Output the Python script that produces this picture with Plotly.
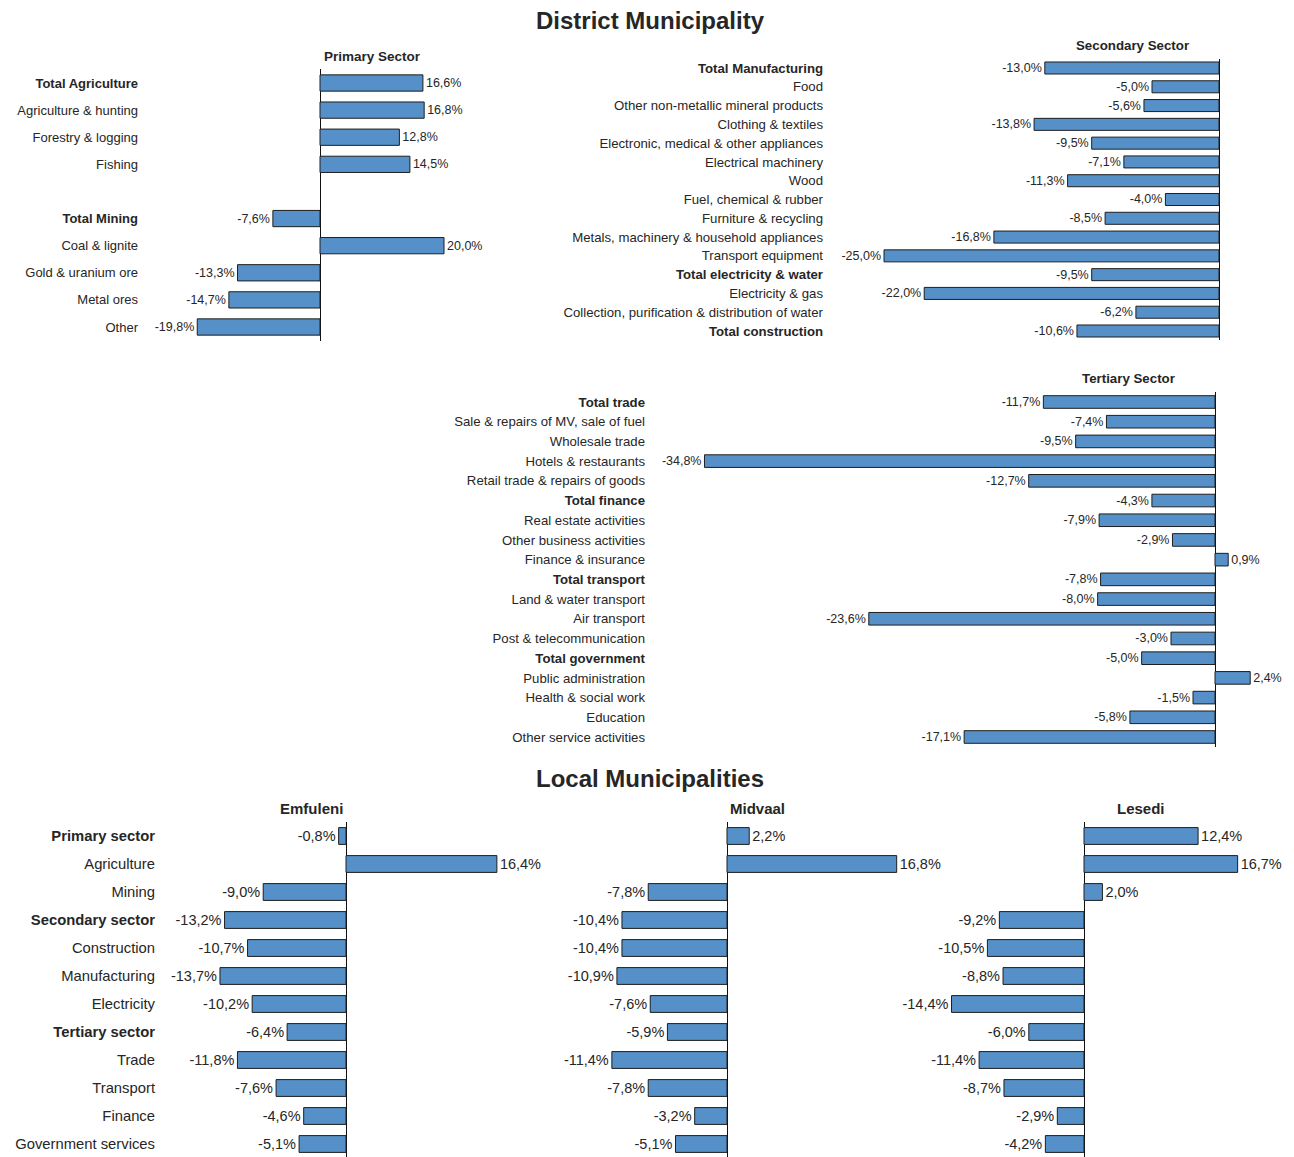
import plotly.graph_objects as go

OFF = 8                      # browser body margin
W, H = 1294 - 2 * OFF, 1157 - OFF

# ---------------- data ----------------
primary_labels = ["Total Agriculture", "Agriculture & hunting", "Forestry & logging", "Fishing", None,
                  "Total Mining", "Coal & lignite", "Gold & uranium ore", "Metal ores", "Other"]
primary_bold = ["Total Agriculture", "Total Mining"]
primary_values = [16.6, 16.8, 12.8, 14.5, None, -7.6, 20.0, -13.3, -14.7, -19.8]

secondary_labels = ["Total Manufacturing", "Food", "Other non-metallic mineral products", "Clothing & textiles",
                    "Electronic, medical & other appliances", "Electrical machinery", "Wood",
                    "Fuel, chemical & rubber", "Furniture & recycling", "Metals, machinery & household appliances",
                    "Transport equipment", "Total electricity & water", "Electricity & gas",
                    "Collection, purification & distribution of water", "Total construction"]
secondary_bold = ["Total Manufacturing", "Total electricity & water", "Total construction"]
secondary_values = [-13.0, -5.0, -5.6, -13.8, -9.5, -7.1, -11.3, -4.0, -8.5, -16.8, -25.0, -9.5, -22.0, -6.2, -10.6]

tertiary_labels = ["Total trade", "Sale & repairs of MV, sale of fuel", "Wholesale trade", "Hotels & restaurants",
                   "Retail trade & repairs of goods", "Total finance", "Real estate activities",
                   "Other business activities", "Finance & insurance", "Total transport",
                   "Land & water transport", "Air transport", "Post & telecommunication", "Total government",
                   "Public administration", "Health & social work", "Education", "Other service activities"]
tertiary_bold = ["Total trade", "Total finance", "Total transport", "Total government"]
tertiary_values = [-11.7, -7.4, -9.5, -34.8, -12.7, -4.3, -7.9, -2.9, 0.9, -7.8, -8.0, -23.6, -3.0, -5.0,
                   2.4, -1.5, -5.8, -17.1]

local_labels = ["Primary sector", "Agriculture", "Mining", "Secondary sector", "Construction", "Manufacturing",
                "Electricity", "Tertiary sector", "Trade", "Transport", "Finance", "Government services"]
local_bold = ["Primary sector", "Secondary sector", "Tertiary sector"]
emfuleni_values = [-0.8, 16.4, -9.0, -13.2, -10.7, -13.7, -10.2, -6.4, -11.8, -7.6, -4.6, -5.1]
midvaal_values = [2.2, 16.8, -7.8, -10.4, -10.4, -10.9, -7.6, -5.9, -11.4, -7.8, -3.2, -5.1]
lesedi_values = [12.4, 16.7, 2.0, -9.2, -10.5, -8.8, -14.4, -6.0, -11.4, -8.7, -2.9, -4.2]

# ---------------- styling / geometry (reference-page pixels) ----------------
BAR = "#5690c8"
EDGE = "#1e1e1e"
TXT = "#262626"
FONT = "Liberation Sans, Arial, sans-serif"

panels = [
    dict(title="Primary Sector", labels=primary_labels, bold=primary_bold, values=primary_values,
         left=142, zero=320, scale=6.2, right=500, y0=83, y1=327, lf=13, tf=12.5, bw=0.6, tx=372, ty=57, tfs=13.5, show=True),
    dict(title="Secondary Sector", labels=secondary_labels, bold=secondary_bold, values=secondary_values,
         left=827, zero=1219, scale=13.4, right=1290, y0=68, y1=331, lf=13.2, tf=12.5, bw=0.64, tx=1132, ty=45, tfs=13.3, show=True),
    dict(title="Tertiary Sector", labels=tertiary_labels, bold=tertiary_bold, values=tertiary_values,
         left=649, zero=1215, scale=14.67, right=1290, y0=402, y1=737, lf=13.2, tf=12.5, bw=0.64, tx=1128, ty=378, tfs=13.3, show=True),
    dict(title="Emfuleni", labels=local_labels, bold=local_bold, values=emfuleni_values,
         left=159, zero=346, scale=9.2, right=555, y0=836, y1=1144, lf=14.8, tf=14.5, bw=0.6, tx=311, ty=808, tfs=15, show=True),
    dict(title="Midvaal", labels=local_labels, bold=local_bold, values=midvaal_values,
         left=556, zero=727, scale=10.1, right=935, y0=836, y1=1144, lf=14.8, tf=14.5, bw=0.6, tx=757, ty=808, tfs=15, show=False),
    dict(title="Lesedi", labels=local_labels, bold=local_bold, values=lesedi_values,
         left=940, zero=1084, scale=9.2, right=1294, y0=836, y1=1144, lf=14.8, tf=14.5, bw=0.6, tx=1141, ty=808, tfs=15, show=False),
]


def clamp(v):
    return max(0.0, min(1.0, v))


def px_x(v):
    return (v - OFF) / W


def px_y(v):
    return 1 - (v - OFF) / H


fig = go.Figure()
layout = dict(
    width=W, height=H, margin=dict(l=0, r=0, t=0, b=0),
    paper_bgcolor="white", plot_bgcolor="white", showlegend=False,
    separators=",.", font=dict(family=FONT, color=TXT),
)
annotations = []

for i, p in enumerate(panels, start=1):
    n = len(p["labels"])
    idx = list(range(n))
    s = (p["y1"] - p["y0"]) / (n - 1)
    top_px = p["y0"] - s / 2
    bot_px = p["y1"] + s / 2
    xname = "x" if i == 1 else f"x{i}"
    yname = "y" if i == 1 else f"y{i}"
    xkey = "xaxis" if i == 1 else f"xaxis{i}"
    ykey = "yaxis" if i == 1 else f"yaxis{i}"

    fig.add_trace(go.Bar(
        x=p["values"], y=idx, orientation="h", xaxis=xname, yaxis=yname,
        marker=dict(color=BAR, line=dict(color=EDGE, width=1)), width=p["bw"],
        texttemplate="%{x:.1f}%", textposition="outside", cliponaxis=False, constraintext="none",
        textfont=dict(family=FONT, size=p["tf"], color=TXT), hoverinfo="skip",
    ))

    ticktext = []
    for lab in p["labels"]:
        if lab is None:
            ticktext.append("")
        elif lab in p["bold"]:
            ticktext.append(f"<b>{lab}</b>")
        else:
            ticktext.append(lab)

    y_lo_raw = px_y(bot_px)
    y_lo = clamp(y_lo_raw)
    # keep the row scale exact when the domain is clamped at the page edge
    rows_lo = n - 0.5 - (y_lo - y_lo_raw) * H / s

    left = max(p["left"], OFF)
    right = min(p["right"], OFF + W)
    layout[xkey] = dict(
        domain=[clamp(px_x(left)), clamp(px_x(right))],
        range=[(left - p["zero"]) / p["scale"], (right - p["zero"]) / p["scale"]],
        anchor=yname, showgrid=False, showticklabels=False, ticks="", showline=False,
        zeroline=True, zerolinecolor="#111111", zerolinewidth=1,
    )
    layout[ykey] = dict(
        domain=[y_lo, clamp(px_y(top_px))],
        range=[rows_lo, -0.5], anchor=xname,
        tickvals=idx, ticktext=ticktext, showticklabels=p["show"], ticks="",
        ticklabelstandoff=3,
        showgrid=False, zeroline=False, showline=False,
        tickfont=dict(family=FONT, size=p["lf"], color=TXT),
    )
    annotations.append(dict(
        text=f"<b>{p['title']}</b>", x=px_x(p["tx"]), y=px_y(p["ty"]), xref="paper", yref="paper",
        showarrow=False, xanchor="center", yanchor="middle",
        font=dict(family=FONT, size=p["tfs"], color=TXT),
    ))

annotations.append(dict(text="<b>District Municipality</b>", x=px_x(650), y=px_y(20), xref="paper", yref="paper",
                        showarrow=False, xanchor="center", yanchor="middle",
                        font=dict(family=FONT, size=24, color=TXT)))
annotations.append(dict(text="<b>Local Municipalities</b>", x=px_x(650), y=px_y(778), xref="paper", yref="paper",
                        showarrow=False, xanchor="center", yanchor="middle",
                        font=dict(family=FONT, size=24, color=TXT)))
layout["annotations"] = annotations
fig.update_layout(**layout)
fig.write_html("out.html")
